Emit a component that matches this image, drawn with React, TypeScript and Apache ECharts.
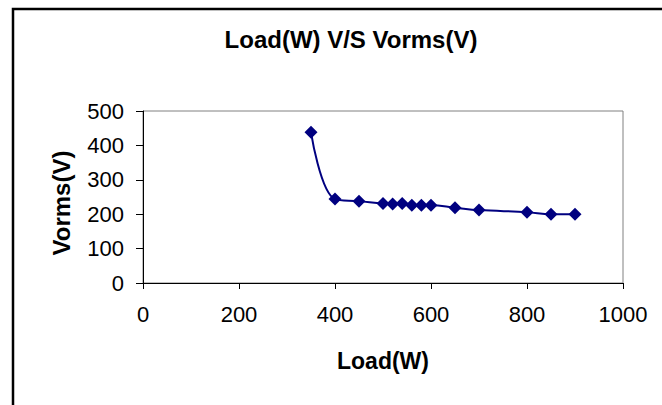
import React, { useEffect, useRef } from "react";
import * as echarts from "echarts";

const loadW = [350, 400, 450, 500, 520, 540, 560, 580, 600, 650, 700, 800, 850, 900];
const vorms = [438, 244, 238, 231, 230, 231, 226, 226, 226, 219, 212, 206, 200, 200];
const xTicks = [0, 200, 400, 600, 800, 1000];
const yTicks = [0, 100, 200, 300, 400, 500];

export default function App() {
  const ref = useRef<HTMLDivElement>(null);
  useEffect(() => {
    document.body.style.margin = "0";
    const chart = echarts.init(ref.current!, null, { renderer: "svg" });
    const font = "'Liberation Sans', Arial, sans-serif";
    chart.setOption({
      animation: false,
      backgroundColor: "#fff",
      title: {
        text: "Load(W) V/S Vorms(V)",
        left: 346,
        top: 22,
        textAlign: "center",
        textStyle: { fontFamily: font, fontWeight: "bold", fontSize: 24, color: "#000" },
      },
      graphic: [
        {
          type: "rect",
          shape: { x: 13, y: 9, width: 800, height: 600 },
          style: { fill: "none", stroke: "#000", lineWidth: 2.5 },
          silent: true,
        },
      ],
      grid: {
        left: 143,
        right: 39,
        top: 111,
        bottom: 122,
        show: true,
        borderColor: "#808080",
        borderWidth: 1,
        backgroundColor: "#fff",
      },
      xAxis: {
        type: "value",
        min: xTicks[0],
        max: xTicks[xTicks.length - 1],
        interval: 200,
        name: "Load(W)",
        nameLocation: "middle",
        nameGap: 66,
        nameTextStyle: { fontFamily: font, fontWeight: "bold", fontSize: 23, color: "#000" },
        axisLine: { show: true, lineStyle: { color: "#000", width: 1 } },
        axisTick: { show: true, inside: false, length: 6, lineStyle: { color: "#000" } },
        axisLabel: {
          margin: 20,
          fontFamily: font,
          fontSize: 22,
          color: "#000",
          formatter: (v: number) => String(v),
        },
        splitLine: { show: false },
      },
      yAxis: {
        type: "value",
        min: yTicks[0],
        max: yTicks[yTicks.length - 1],
        interval: 100,
        name: "Vorms(V)",
        nameLocation: "middle",
        nameRotate: 90,
        nameGap: 70,
        nameTextStyle: {
          fontFamily: font,
          fontWeight: "bold",
          fontSize: 24,
          color: "#000",
          padding: [0, 12, 0, 0],
        },
        axisLine: { show: true, lineStyle: { color: "#000", width: 1 } },
        axisTick: { show: true, inside: false, length: 7, lineStyle: { color: "#000" } },
        axisLabel: {
          margin: 19,
          fontFamily: font,
          fontSize: 22,
          color: "#000",
          formatter: (v: number) => String(v),
        },
        splitLine: { show: false },
      },
      series: [
        {
          type: "line",
          data: loadW.map((x, i) => [x, vorms[i]]),
          smooth: 0.4,
          symbol: "diamond",
          symbolSize: 13,
          lineStyle: { color: "#000080", width: 2 },
          itemStyle: { color: "#000080" },
        },
      ],
    });
    return () => chart.dispose();
  }, []);
  return <div ref={ref} style={{ width: 662, height: 405 }} />;
}
